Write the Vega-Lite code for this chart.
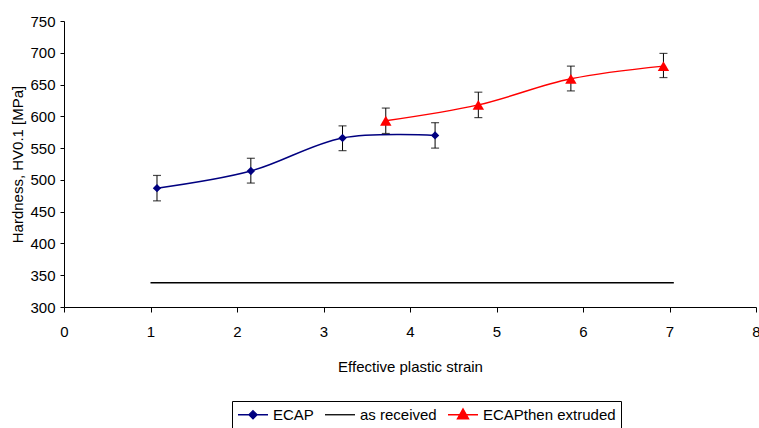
{
  "$schema": "https://vega.github.io/schema/vega-lite/v6.json",
  "width": 692,
  "height": 286,
  "autosize": {"type": "none"},
  "padding": {"left": 64, "top": 21, "right": 3, "bottom": 121},
  "background": "white",
  "data": {
    "values": [
      {"series": "ECAP", "x": 1.075, "y": 487, "lo": 467, "hi": 507},
      {"series": "ECAP", "x": 2.16, "y": 514, "lo": 495, "hi": 534},
      {"series": "ECAP", "x": 3.22, "y": 566, "lo": 546, "hi": 585},
      {"series": "ECAP", "x": 4.29, "y": 570, "lo": 550, "hi": 590},
      {"series": "as received", "x": 1.0, "y": 338},
      {"series": "as received", "x": 7.05, "y": 338},
      {"series": "ECAPthen extruded", "x": 3.72, "y": 593, "lo": 573, "hi": 613},
      {"series": "ECAPthen extruded", "x": 4.79, "y": 618, "lo": 598, "hi": 638},
      {"series": "ECAPthen extruded", "x": 5.86, "y": 659, "lo": 640, "hi": 679},
      {"series": "ECAPthen extruded", "x": 6.93, "y": 679, "lo": 661, "hi": 699}
    ]
  },
  "encoding": {
    "x": {"field": "x", "type": "quantitative", "scale": {"domain": [0, 8], "nice": false, "zero": false},
      "axis": {"title": "Effective plastic strain", "values": [0,1,2,3,4,5,6,7,8], "format": "d", "tickSize": 5, "labelPadding": 12, "labelFontSize": 15, "titleFontSize": 15, "titlePadding": 20, "labelFlush": false}},
    "y": {"field": "y", "type": "quantitative", "scale": {"domain": [300, 750], "nice": false, "zero": false},
      "axis": {"title": "Hardness, HV0.1 [MPa]", "values": [300,350,400,450,500,550,600,650,700,750], "tickSize": 4, "labelPadding": 5, "labelFontSize": 15, "titleFontSize": 15, "titlePadding": 4}}
  },
  "layer": [
    {
      "mark": {"type": "line", "interpolate": "catmull-rom", "strokeWidth": 1.5},
      "encoding": {
        "stroke": {"field": "series", "type": "nominal", "scale": {"domain": ["ECAP", "as received", "ECAPthen extruded"], "range": ["#000080", "#000000", "#ff0000"]}},
        "detail": {"field": "series"}
      }
    },
    {
      "transform": [{"filter": "datum.series !== 'as received'"}],
      "mark": {"type": "rule", "color": "black", "strokeWidth": 1},
      "encoding": {"y": {"field": "lo", "type": "quantitative"}, "y2": {"field": "hi"}}
    },
    {
      "transform": [{"filter": "datum.series !== 'as received'"}],
      "mark": {"type": "tick", "color": "black", "orient": "horizontal", "size": 8, "thickness": 1.2},
      "encoding": {"y": {"field": "lo", "type": "quantitative"}}
    },
    {
      "transform": [{"filter": "datum.series !== 'as received'"}],
      "mark": {"type": "tick", "color": "black", "orient": "horizontal", "size": 8, "thickness": 1.2},
      "encoding": {"y": {"field": "hi", "type": "quantitative"}}
    },
    {
      "transform": [{"filter": "datum.series === 'ECAP'"}],
      "mark": {"type": "point", "filled": true, "opacity": 1, "shape": "diamond", "size": 70, "color": "#000080"}
    },
    {
      "transform": [{"filter": "datum.series === 'ECAPthen extruded'"}],
      "mark": {"type": "point", "filled": true, "opacity": 1, "shape": "triangle-up", "size": 130, "color": "#ff0000"}
    },
    {
      "transform": [{"filter": "datum.series !== 'as received'"}],
      "mark": {"type": "point", "filled": true, "opacity": 1, "strokeWidth": 1.3},
      "encoding": {
        "stroke": {"field": "series", "type": "nominal"},
        "shape": {"field": "series", "type": "nominal",
          "scale": {"domain": ["ECAP", "as received", "ECAPthen extruded"], "range": ["M-1,0H3M1,-0.55L1.55,0L1,0.55L0.45,0Z", "M-1,0H3", "M-1,0H3M1,-0.8L1.75,0.55L0.25,0.55Z"]}},
        "fill": {"field": "series", "type": "nominal",
          "scale": {"domain": ["ECAP", "as received", "ECAPthen extruded"], "range": ["#000080", "transparent", "#ff0000"]}},
        "size": {"condition": {"test": "datum.series === 'none'", "value": 1}, "value": 0}
      }
    }
  ],
  "config": {
    "view": {"stroke": null},
    "font": "Liberation Sans",
    "axis": {"grid": false, "domainColor": "black", "tickColor": "black", "labelColor": "black", "titleColor": "black", "titleFontWeight": "normal", "domainWidth": 1, "tickWidth": 1},
    "legend": {
      "title": null,
      "orient": "none",
      "legendX": 168,
      "legendY": 380,
      "direction": "horizontal",
      "columns": 3,
      "strokeColor": "black",
      "fillColor": "white",
      "padding": 5,
      "columnPadding": 8,
      "symbolSize": 225,
      "symbolStrokeWidth": 1.3,
      "labelFontSize": 15,
      "labelColor": "black",
      "labelOffset": 19,
      "labelFont": "Liberation Sans"
    }
  }
}
